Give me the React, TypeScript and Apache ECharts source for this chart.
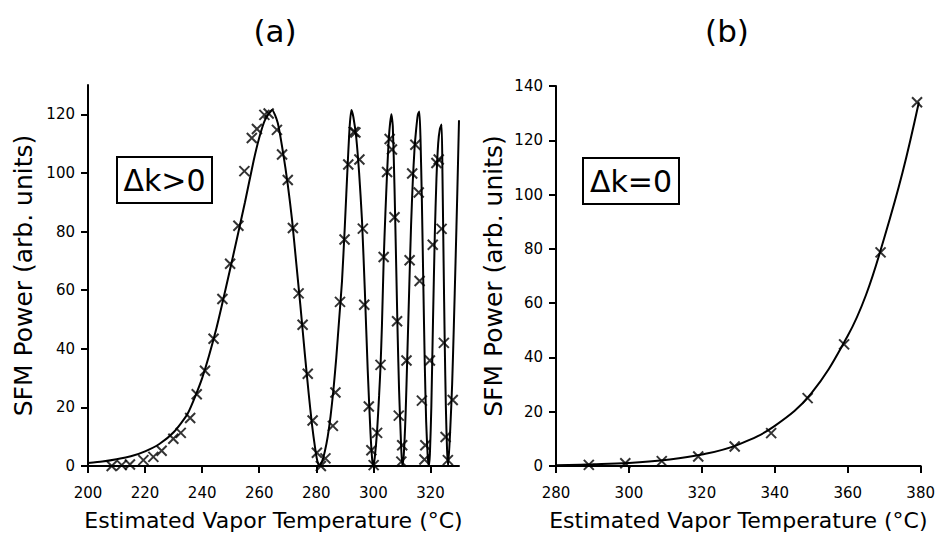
import React, { useEffect, useRef } from "react";
import * as echarts from "echarts";

// Panel (a): Δk>0
const curveAX = [200, 205, 210, 215, 220, 225, 230, 235, 240, 245, 250, 255, 258, 260, 262, 264.5, 266.5, 268.5, 270, 271.5, 273, 274.4, 276, 277.3, 278.5, 279.6, 280.3, 281, 282, 283, 284, 285, 286, 287, 288, 289, 290, 291, 291.7, 292.3, 293, 294, 295, 296, 297, 298, 299, 299.6, 300, 300.5, 301.3, 302, 302.5, 303, 303.6, 304.2, 304.8, 305.5, 306.3, 306.8, 307.4, 308, 308.5, 309, 309.6, 310.1, 310.6, 311.3, 311.9, 312.6, 313.2, 313.8, 314.4, 315, 315.6, 316.1, 316.5, 317, 317.5, 318, 318.5, 319, 319.4, 319.8, 320.3, 320.9, 321.5, 322.1, 322.7, 323.3, 323.9, 324.2, 324.6, 325, 325.4, 325.8, 326.2, 327, 327.6, 328.2, 328.8, 329.4, 330];
const curveAY = [1, 1.5, 2.3, 3.3, 5, 7.5, 11.5, 18, 30, 47, 68, 90, 104, 112, 118, 121.5, 117, 106, 96, 84, 69, 55, 38, 25, 14, 6, 2, 0, 1.5, 5, 10, 17, 26, 37, 50, 63, 82, 103, 116, 121.5, 119, 112, 100, 84, 60, 33, 11, 2, 0, 3, 12, 24, 34, 48, 70, 86, 100, 113, 120, 116, 95, 68, 45, 26, 10, 0, 3, 18, 38, 62, 82, 97, 108, 115, 120, 121, 112, 90, 62, 35, 15, 4, 0, 4, 20, 50, 78, 98, 110, 115, 116.5, 100, 70, 42, 20, 6, 0, 14, 28, 48, 70, 93, 118];
const dataAX = [208.3, 211.8, 214.7, 219.4, 222.9, 225.8, 229.9, 232.5, 235.8, 238.1, 241, 244, 247.1, 249.8, 252.7, 254.8, 257.4, 259.2, 261.8, 263.3, 266.2, 268, 270, 271.8, 273.8, 275.2, 277, 278.7, 280.2, 281.6, 283.2, 285.8, 286.7, 288.3, 289.9, 291.2, 293.1, 293.7, 295.1, 296.3, 296.8, 298.4, 299.3, 300.1, 301.3, 302.5, 303.6, 304.8, 305.7, 306.5, 307.4, 308.3, 308.9, 310.1, 309.8, 311.6, 312.7, 313.6, 314.7, 315.9, 316.2, 317, 318.2, 317.9, 319.8, 320.8, 322.1, 322.9, 323.9, 324.7, 325.3, 326.1, 327.8];
const dataAY = [0, 0.3, 0.5, 2, 3.1, 5.2, 9.3, 11.3, 16.4, 24.5, 32.5, 43.4, 57, 69, 82, 100.6, 111.9, 115, 119.8, 120.3, 114.7, 106.3, 97.6, 81.2, 58.9, 48.2, 31.5, 15.5, 4.5, 0, 2.6, 13.7, 25.1, 56, 77.3, 102.9, 114, 113.8, 104.6, 81, 55, 20.3, 5.4, 0.3, 11.3, 34.5, 71.3, 100.3, 111.6, 108, 84.9, 49.4, 17.2, 7.1, 1.5, 36, 70.2, 99.8, 109.6, 93.3, 63.1, 22.3, 7.1, 2.2, 36, 75.5, 103.4, 104.6, 80.9, 42, 9.9, 2, 22.5];
const xTicksA = [200, 220, 240, 260, 280, 300, 320];
const yTicksA = [0, 20, 40, 60, 80, 100, 120];

// Panel (b): Δk=0
const curveBX = [280, 290, 300, 310, 320, 330, 340, 350, 360, 365, 370, 375, 379.5];
const curveBY = [0.3, 0.6, 1.1, 2.2, 4.2, 7.9, 14.8, 26.8, 48, 63, 84, 108, 134];
const dataBX = [289, 299, 309, 319, 329, 339, 349, 359, 369, 379];
const dataBY = [0.4, 1.0, 1.8, 3.5, 7.2, 12.1, 25, 44.8, 78.7, 134];
const xTicksB = [280, 300, 320, 340, 360, 380];
const yTicksB = [0, 20, 40, 60, 80, 100, 120, 140];

const xTitle = "Estimated Vapor Temperature (°C)";
const yTitle = "SFM Power (arb. units)";
const labelA = "Δk>0";
const labelB = "Δk=0";
const titleA = "(a)";
const titleB = "(b)";

const FONT = "DejaVu Sans";
const CROSS = "path://M0,0L10,10M10,0L0,10";

function zip(xs: number[], ys: number[]) {
  return xs.map((x, i) => [x, ys[i]]);
}

function xAxisCfg(gridIndex: number, min: number, max: number, ticks: number[]) {
  return {
    type: "value",
    gridIndex,
    min,
    max,
    name: xTitle,
    nameLocation: "middle",
    nameGap: 43,
    nameTextStyle: { fontFamily: FONT, fontSize: 22, color: "#000" },
    axisLine: { onZero: false, lineStyle: { color: "#000", width: 2 } },
    axisTick: { show: true, inside: false, length: 7, customValues: ticks, lineStyle: { color: "#000", width: 2 } },
    axisLabel: { customValues: ticks, fontFamily: FONT, fontSize: 15, color: "#000", margin: 19 },
    splitLine: { show: false },
  };
}

function yAxisCfg(gridIndex: number, min: number, max: number, ticks: number[], gap: number) {
  return {
    type: "value",
    gridIndex,
    min,
    max,
    name: yTitle,
    nameLocation: "middle",
    nameGap: gap,
    nameRotate: 90,
    nameTextStyle: { fontFamily: FONT, fontSize: 25, color: "#000" },
    axisLine: { show: true, lineStyle: { color: "#000", width: 2 } },
    axisTick: { show: true, inside: false, length: 7, customValues: ticks, lineStyle: { color: "#000", width: 2 } },
    axisLabel: { customValues: ticks, fontFamily: FONT, fontSize: 15, color: "#000", margin: 13 },
    splitLine: { show: false },
  };
}

export default function App() {
  const ref = useRef<HTMLDivElement>(null);
  useEffect(() => {
    if (!ref.current) return;
    const chart = echarts.init(ref.current, undefined, { renderer: "svg" });
    chart.setOption({
      animation: false,
      backgroundColor: "#fff",
      grid: [
        { left: 88, top: 85, width: 371, height: 384 },
        { left: 556, top: 86, width: 366, height: 386 },
      ],
      xAxis: [xAxisCfg(0, 200, 330, xTicksA), xAxisCfg(1, 280, 380, xTicksB)],
      yAxis: [yAxisCfg(0, 0, 130, yTicksA, 52), yAxisCfg(1, 0, 140, yTicksB, 50)],
      graphic: [
        { type: "text", x: 275, y: 31, style: { text: titleA, fontFamily: FONT, fontSize: 31, fill: "#000", textAlign: "center", textVerticalAlign: "middle" } },
        { type: "text", x: 727, y: 31, style: { text: titleB, fontFamily: FONT, fontSize: 31, fill: "#000", textAlign: "center", textVerticalAlign: "middle" } },
        {
          type: "group",
          left: 116,
          top: 156,
          children: [
            { type: "rect", shape: { x: 0, y: 0, width: 95, height: 46 }, style: { fill: "#fff", stroke: "#000", lineWidth: 2 } },
            { type: "text", x: 47.5, y: 23, style: { text: labelA, fontFamily: FONT, fontSize: 30, fill: "#000", textAlign: "center", textVerticalAlign: "middle" } },
          ],
        },
        {
          type: "group",
          left: 582,
          top: 157,
          children: [
            { type: "rect", shape: { x: 0, y: 0, width: 96, height: 46 }, style: { fill: "#fff", stroke: "#000", lineWidth: 2 } },
            { type: "text", x: 48, y: 23, style: { text: labelB, fontFamily: FONT, fontSize: 30, fill: "#000", textAlign: "center", textVerticalAlign: "middle" } },
          ],
        },
      ],
      series: [
        {
          type: "line",
          xAxisIndex: 0,
          yAxisIndex: 0,
          data: zip(curveAX, curveAY),
          showSymbol: false,
          smooth: 0.2,
          lineStyle: { color: "#000", width: 2 },
          z: 2,
        },
        {
          type: "scatter",
          xAxisIndex: 0,
          yAxisIndex: 0,
          data: zip(dataAX, dataAY),
          symbol: CROSS,
          symbolSize: 10,
          itemStyle: { color: "transparent", borderColor: "#000", borderWidth: 2 },
          z: 3,
        },
        {
          type: "line",
          xAxisIndex: 1,
          yAxisIndex: 1,
          data: zip(curveBX, curveBY),
          showSymbol: false,
          smooth: 0.4,
          lineStyle: { color: "#000", width: 2 },
          z: 2,
        },
        {
          type: "scatter",
          xAxisIndex: 1,
          yAxisIndex: 1,
          data: zip(dataBX, dataBY),
          symbol: CROSS,
          symbolSize: 10,
          itemStyle: { color: "transparent", borderColor: "#000", borderWidth: 2 },
          z: 3,
        },
      ],
    });
    return () => chart.dispose();
  }, []);
  return <div ref={ref} style={{ position: "fixed", left: 0, top: 0, width: 938, height: 536, background: "#fff" }} />;
}
